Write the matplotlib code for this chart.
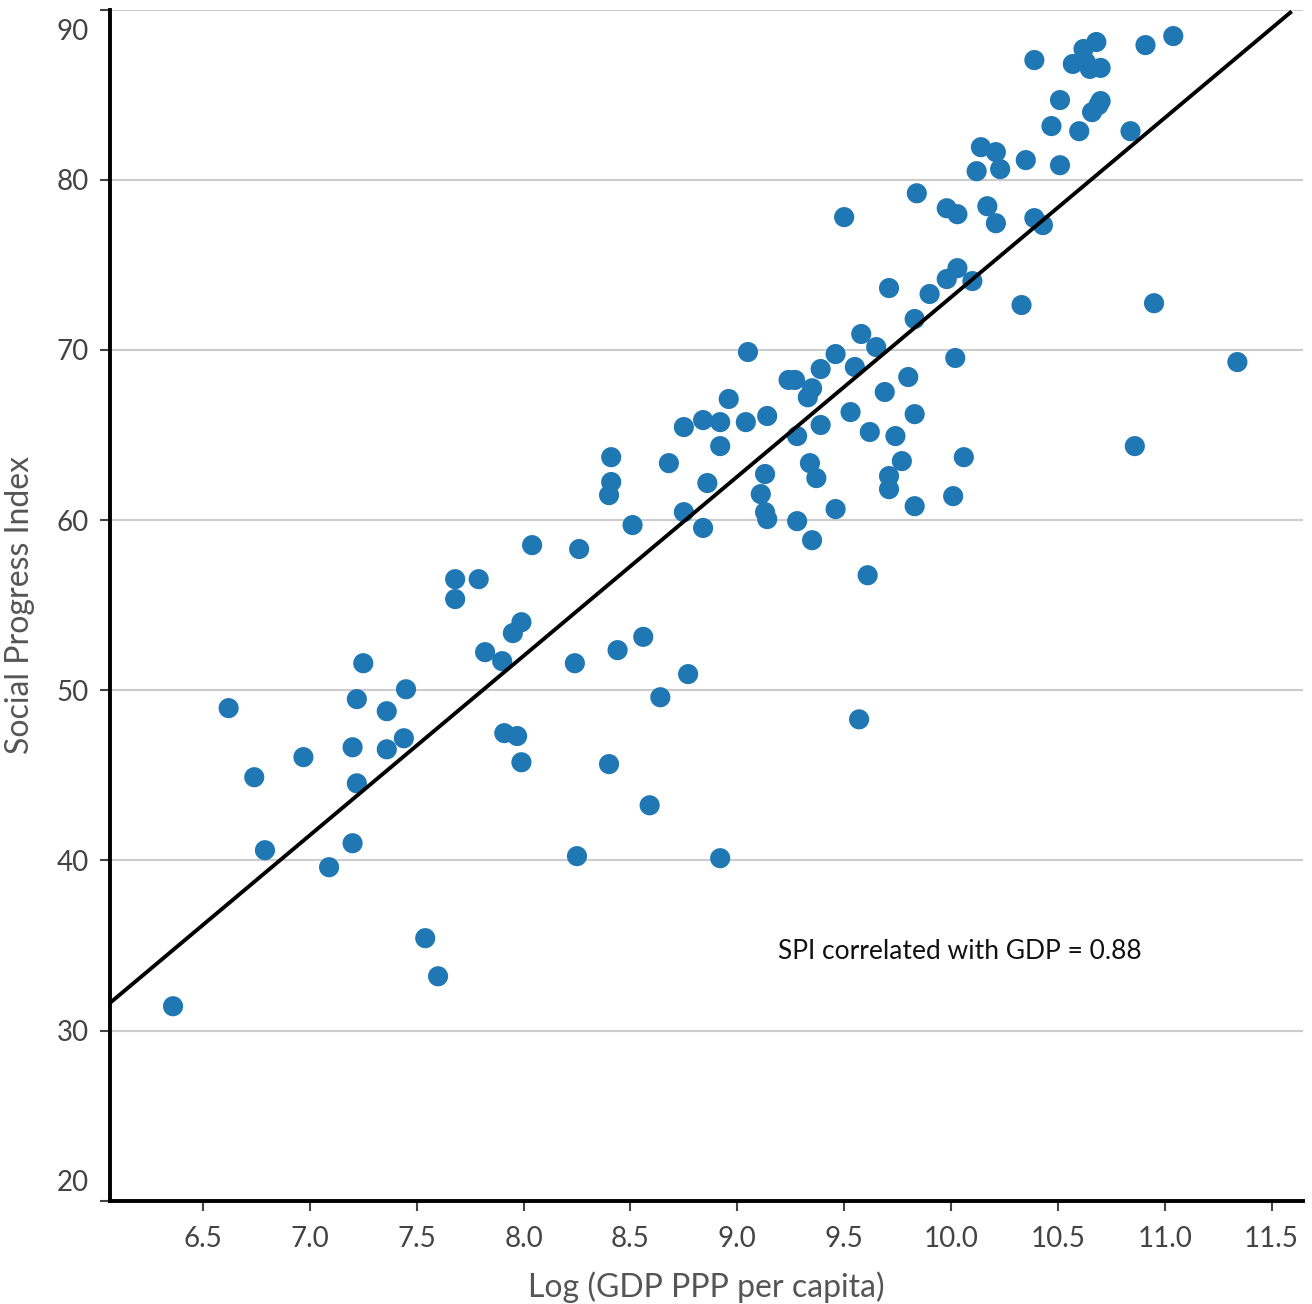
import numpy as np
import matplotlib
matplotlib.use("Agg")
from matplotlib import pyplot as plt
from matplotlib.transforms import ScaledTranslation

plt.rcParams["font.family"] = ["Lato", "DejaVu Sans"]

# Log GDP PPP per capita, Social Progress Index
log_gdp = [6.36, 6.62, 6.74, 6.79, 6.97, 7.09, 7.20, 7.20, 7.22, 7.22,
           7.25, 7.36, 7.36, 7.45, 7.44, 7.54, 7.60, 7.68, 7.68, 7.79,
           7.82, 7.90, 7.91, 7.97, 7.95, 7.99, 7.99, 8.04, 8.24, 8.25,
           8.26, 8.40, 8.40, 8.41, 8.41, 8.44, 8.51, 8.56, 8.59, 8.64,
           8.68, 8.75, 8.75, 8.77, 8.84, 8.84, 8.86, 8.92, 8.92, 8.92,
           8.96, 9.04, 9.05, 9.11, 9.13, 9.13, 9.14, 9.14, 9.24, 9.27,
           9.28, 9.28, 9.33, 9.35, 9.34, 9.35, 9.37, 9.39, 9.39, 9.46,
           9.46, 9.50, 9.53, 9.55, 9.57, 9.58, 9.61, 9.62, 9.65, 9.69,
           9.71, 9.71, 9.71, 9.74, 9.77, 9.80, 9.83, 9.83, 9.83, 9.84,
           9.90, 9.98, 9.98, 10.01, 10.02, 10.03, 10.03, 10.06, 10.10, 10.12,
           10.14, 10.17, 10.21, 10.21, 10.23, 10.33, 10.35, 10.39, 10.39, 10.43,
           10.47, 10.51, 10.51, 10.57, 10.60, 10.62, 10.63, 10.65, 10.68, 10.66,
           10.69, 10.70, 10.70, 10.84, 10.86, 10.91, 10.95, 11.04, 11.34]
spi = [31.43, 48.95, 44.89, 40.60, 46.07, 39.60, 41.01, 46.65, 44.53, 49.48,
       51.59, 48.77, 46.53, 50.06, 47.18, 35.43, 33.19, 56.53, 55.36, 56.53,
       52.24, 51.71, 47.48, 47.31, 53.36, 54.00, 45.77, 58.53, 51.59, 40.25,
       58.30, 45.66, 61.47, 62.24, 63.70, 52.36, 59.71, 53.14, 43.24, 49.59,
       63.35, 65.47, 60.47, 50.95, 65.88, 59.54, 62.18, 65.76, 64.35, 40.13,
       67.12, 65.76, 69.88, 61.53, 62.71, 60.47, 60.06, 66.12, 68.24, 68.24,
       59.94, 64.94, 67.22, 67.75, 63.35, 58.82, 62.47, 65.59, 68.88, 69.76,
       60.65, 77.81, 66.35, 69.00, 48.29, 70.94, 56.76, 65.18, 70.17, 67.53,
       73.64, 62.59, 61.82, 64.94, 63.47, 68.41, 71.82, 66.23, 60.82, 79.21,
       73.29, 74.17, 78.33, 61.41, 69.53, 77.98, 74.81, 63.70, 74.05, 80.51,
       81.92, 78.45, 81.63, 77.45, 80.63, 72.64, 81.16, 77.75, 87.04, 77.34,
       83.16, 80.86, 84.69, 86.81, 82.86, 87.69, 86.93, 86.52, 88.10, 83.98,
       84.39, 86.58, 84.63, 82.86, 64.35, 87.92, 72.75, 88.45, 69.29]

# fitted trend line
slope, intercept = 10.54, -32.30
line_x = [6.065, 11.594]

x_ticks = [6.5, 7.0, 7.5, 8.0, 8.5, 9.0, 9.5, 10.0, 10.5, 11.0, 11.5]
y_ticks = [20, 30, 40, 50, 60, 70, 80, 90]

fig = plt.figure(figsize=(13.12, 13.04), dpi=100)
ax = fig.add_axes([110 / 1312, 1 - 1200.7 / 1304, 1193 / 1312, 1191 / 1304])

ax.grid(axis="y", color="#cccccc", lw=1.5, zorder=0)
ax.scatter(log_gdp, spi, s=210, color="#1f77b4", edgecolors="none", zorder=3)
ax.plot(line_x, [slope * v + intercept for v in line_x], color="k", lw=2.8, zorder=4,
        solid_capstyle="butt")

ax.text(10.04, 34.66, "SPI correlated with GDP = 0.88", ha="center", va="center",
        fontsize=19, color="#111111")

ax.set_xlim(6.065, 11.647)
ax.set_ylim(20, 90)
ax.set_xticks(x_ticks)
ax.set_xticklabels([f"{t:.1f}" for t in x_ticks])
ax.set_yticks(y_ticks)
ax.set_yticklabels([str(t) for t in y_ticks])

for side in ["top", "right"]:
    ax.spines[side].set_visible(False)
for side in ["left", "bottom"]:
    ax.spines[side].set_linewidth(2.8)
    ax.spines[side].set_color("k")

ax.tick_params(axis="both", colors="#444444", labelsize=20, length=7, width=1.5)
ax.tick_params(axis="x", pad=11)
ax.tick_params(axis="y", pad=8)

ax.set_xlabel("Log (GDP PPP per capita)", fontsize=23, color="#555555", labelpad=14)
ax.set_ylabel("Social Progress Index", fontsize=23, color="#555555", labelpad=16)

# outer y labels sit inside the axis range
labels = ax.get_yticklabels()
labels[-1].set_transform(labels[-1].get_transform() + ScaledTranslation(0, -20 / 100, fig.dpi_scale_trans))
labels[0].set_transform(labels[0].get_transform() + ScaledTranslation(0, 20 / 100, fig.dpi_scale_trans))

fig.savefig("out.png", dpi=100)
